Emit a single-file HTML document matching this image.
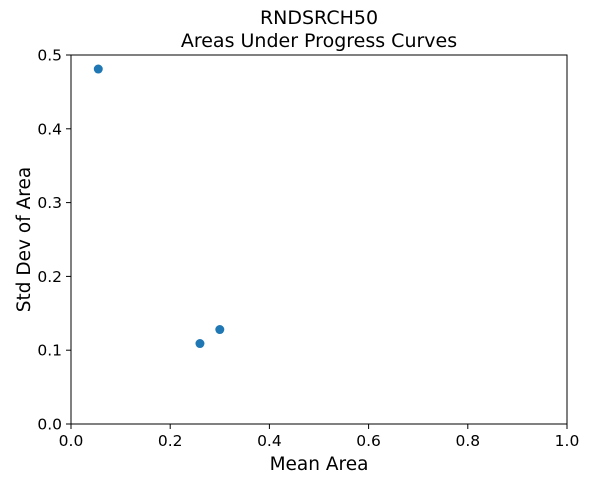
<!DOCTYPE html>
<html><head><meta charset="utf-8"><style>
html,body{margin:0;padding:0;background:#fff;width:590px;height:484px;overflow:hidden}
text{font-family:"DejaVu Sans","Liberation Sans",sans-serif;fill:#000}
</style></head><body>
<svg id="chart" width="590" height="484" viewBox="0 0 590 484" xmlns="http://www.w3.org/2000/svg">
<text x="319" y="24" font-size="19" text-anchor="middle">RNDSRCH50</text>
<text x="319" y="47" font-size="19" text-anchor="middle">Areas Under Progress Curves</text>
<g id="axes"></g>
<g id="points"></g>
<rect x="71" y="55" width="496" height="369" fill="none" stroke="#000" stroke-width="1"/>
<text x="319" y="470" font-size="18.5" text-anchor="middle">Mean Area</text>
<text transform="translate(30,239.5) rotate(-90)" font-size="18.5" text-anchor="middle">Std Dev of Area</text>
</svg>
<script>
const meanArea=[0.055,0.26,0.30];
const stdArea=[0.481,0.109,0.128];
const xTicks=["0.0","0.2","0.4","0.6","0.8","1.0"];
const yTicks=["0.0","0.1","0.2","0.3","0.4","0.5"];
const L=71,R=567,T=55,B=424,ns="http://www.w3.org/2000/svg";
const sx=v=>L+(v-0)/(1-0)*(R-L);
const sy=v=>B-(v-0)/(0.5-0)*(B-T);
const ax=document.getElementById('axes'),pg=document.getElementById('points');
function mk(t,a){const e=document.createElementNS(ns,t);for(const k in a)e.setAttribute(k,a[k]);return e;}
xTicks.forEach(t=>{const x=sx(parseFloat(t));
const l=mk('line',{x1:x,x2:x,y1:B,y2:B+5,stroke:'#000'});

ax.appendChild(l);
const tx=mk('text',{x:x,y:B+22,'font-size':15.5,'text-anchor':'middle'});tx.textContent=t;

ax.appendChild(tx);});
yTicks.forEach(t=>{const y=sy(parseFloat(t));
const l=mk('line',{x1:L-5,x2:L,y1:y,y2:y,stroke:'#000'});

ax.appendChild(l);
const tx=mk('text',{x:L-9,y:y+5.5,'font-size':15.5,'text-anchor':'end'});tx.textContent=t;

ax.appendChild(tx);});
meanArea.forEach((m,i)=>{const c=mk('circle',{cx:sx(m),cy:sy(stdArea[i]),r:4.5,fill:'#1f77b4'});

pg.appendChild(c);});
</script>
</body></html>
